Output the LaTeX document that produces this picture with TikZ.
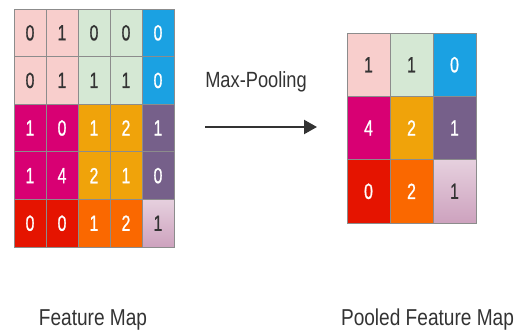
\documentclass[tikz,border=0pt]{standalone}
\usepackage{fontspec}
\setmainfont{Liberation Sans}[FakeStretch=0.83]
\newfontfamily\digitfont{Liberation Sans}[FakeStretch=0.72,FakeBold=0.8]
\usepackage{tikz}
\usetikzlibrary{
	positioning,
	arrows.meta
}

\definecolor{pinklite}{HTML}{F8CECC}
\definecolor{greenlite}{HTML}{D5E8D4}
\definecolor{cyanblue}{HTML}{1BA1E2}
\definecolor{mag}{HTML}{D80073}
\definecolor{amber}{HTML}{F0A30A}
\definecolor{purp}{HTML}{76608A}
\definecolor{crimson}{HTML}{E51400}
\definecolor{orng}{HTML}{FA6800}
\definecolor{mauvetop}{HTML}{E6D0DE}
\definecolor{mauvebot}{HTML}{CDA2BE}
\definecolor{inkgrey}{HTML}{333333}

\begin{document}
\begin{tikzpicture}[
    x=1pt, y=-1pt,
    cell/.style={draw=black!45, line width=0.6pt, inner sep=0pt,
        font=\digitfont\fontsize{22}{22}\selectfont},
    small/.style={cell, minimum width=32pt, minimum height=47.6pt},
    big/.style={cell, minimum width=43pt, minimum height=63.3pt},
    pk/.style={fill=pinklite, text=inkgrey},
    gn/.style={fill=greenlite, text=inkgrey},
    bl/.style={fill=cyanblue, text=white},
    mg/.style={fill=mag, text=white},
    am/.style={fill=amber, text=white},
    pu/.style={fill=purp, text=white},
    rd/.style={fill=crimson, text=white},
    og/.style={fill=orng, text=white},
    mv/.style={top color=mauvetop, bottom color=mauvebot, text=inkgrey},
    caption/.style={text=inkgrey, anchor=base, font=\fontsize{23}{23}\selectfont}
]
    \useasboundingbox (0,0) rectangle (518,336);

    % feature map, 5x5
    \foreach \r/\c/\v/\s in {
        1/1/0/pk, 1/2/1/pk, 1/3/0/gn, 1/4/0/gn, 1/5/0/bl,
        2/1/0/pk, 2/2/1/pk, 2/3/1/gn, 2/4/1/gn, 2/5/0/bl,
        3/1/1/mg, 3/2/0/mg, 3/3/1/am, 3/4/2/am, 3/5/1/pu,
        4/1/1/mg, 4/2/4/mg, 4/3/2/am, 4/4/1/am, 4/5/0/pu,
        5/1/0/rd, 5/2/0/rd, 5/3/1/og, 5/4/2/og, 5/5/1/mv}
        \node [small,\s] (f-\r-\c) at ({30+32*(\c-1)},{32.8+47.6*(\r-1)}) {\v};

    % pooled map, 3x3
    \foreach \r/\c/\v/\s in {
        1/1/1/pk, 1/2/1/gn, 1/3/0/bl,
        2/1/4/mg, 2/2/2/am, 2/3/1/pu,
        3/1/0/rd, 3/2/2/og, 3/3/1/mv}
        \node [big,\s] (p-\r-\c) at ({368.5+43*(\c-1)},{64.7+63.3*(\r-1)}) {\v};

    \node [caption, font=\fontsize{22}{22}\selectfont] (pool-op) at (256,88) {Max-Pooling};
    \coordinate (op-tail) at (205,127);
    \coordinate (op-head) at (317,127);
    \draw [inkgrey, line width=2.2pt, -{Triangle[length=13pt,width=14pt]}] (op-tail) -- (op-head);

    \node [caption] (f-label) at (93,325) {Feature Map};
    \node [caption] (p-label) at (427.5,325) {Pooled Feature Map};
\end{tikzpicture}
\end{document}
